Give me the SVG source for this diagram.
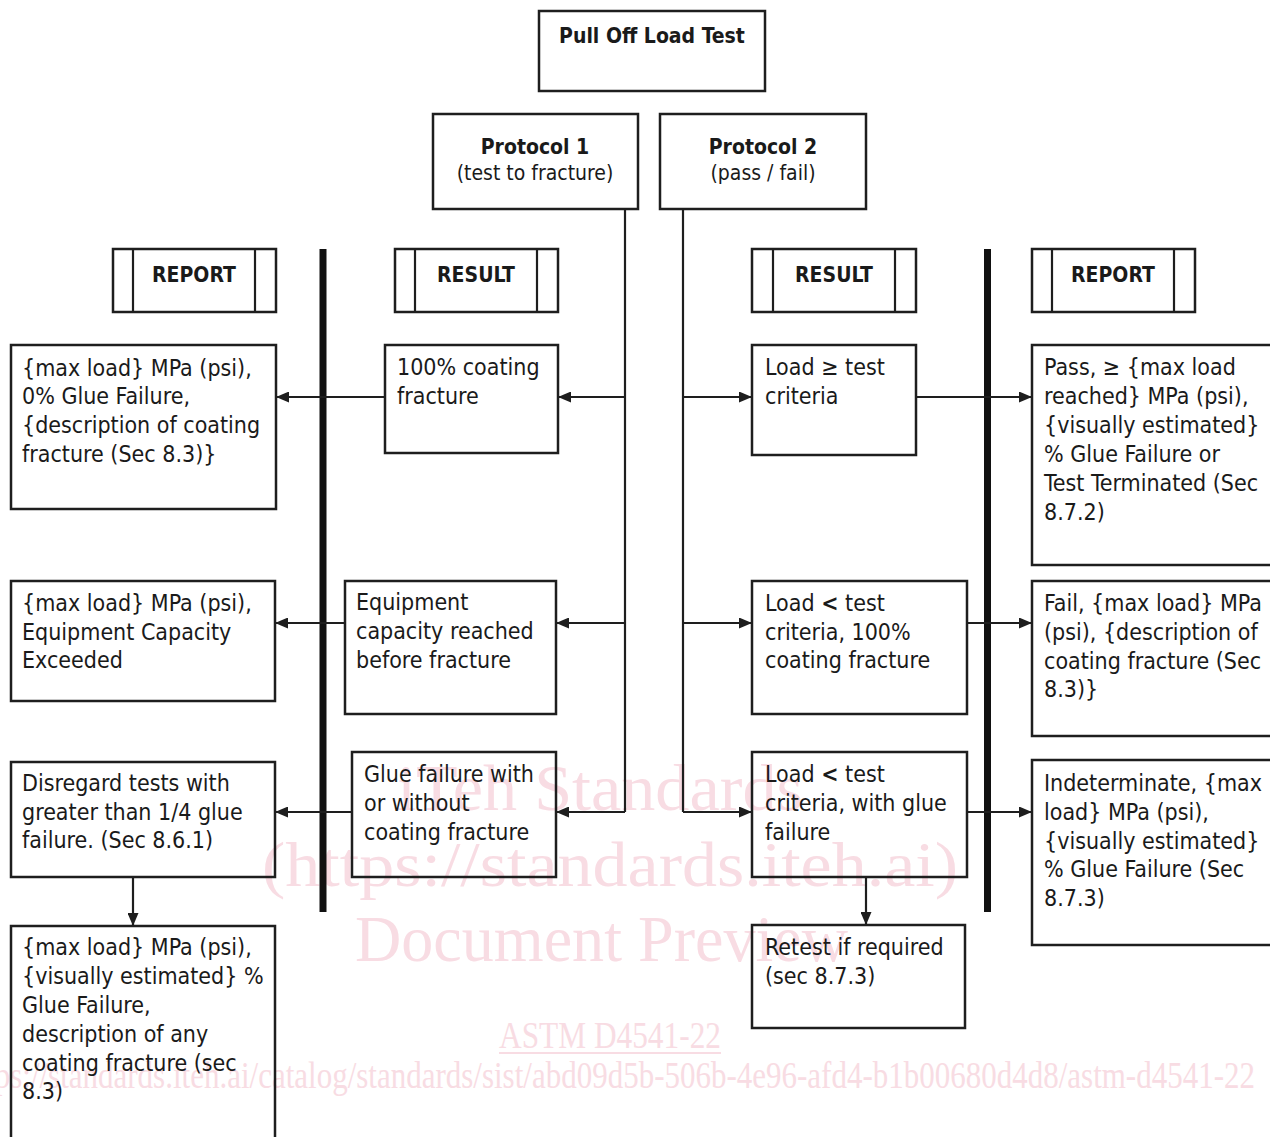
<svg xmlns="http://www.w3.org/2000/svg" width="1270" height="1137" viewBox="0 0 1270 1137">
<defs>
<style>
.box{fill:none;stroke:#1e1e1e;stroke-width:2.5}
.ln{fill:none;stroke:#1e1e1e;stroke-width:2.2}
.bar{fill:none;stroke:#111;stroke-width:7}
.t{font-family:'DejaVu Sans Condensed','DejaVu Sans',sans-serif;font-stretch:condensed;font-size:23px;fill:#1a1a1a}
.h{font-family:'DejaVu Sans Condensed','DejaVu Sans',sans-serif;font-stretch:condensed;font-size:21px;font-weight:bold;fill:#1a1a1a;text-anchor:middle}
.s{font-family:'DejaVu Sans Condensed','DejaVu Sans',sans-serif;font-stretch:condensed;font-size:21px;fill:#1a1a1a;text-anchor:middle}
.wm{font-family:'Liberation Serif','Times New Roman',serif;fill:#f8dce3}
</style>
<marker id="ah" viewBox="0 0 13 11" refX="13" refY="5.5" markerWidth="13" markerHeight="11" markerUnits="userSpaceOnUse" orient="auto"><path d="M0,0 L13,5.5 L0,11 z" fill="#1e1e1e"/></marker>
</defs>
<rect width="1270" height="1137" fill="#fff"/>
<g id="watermark">
<text class="wm" x="397" y="810" font-size="66" textLength="406" lengthAdjust="spacingAndGlyphs">iTeh Standards</text>
<text class="wm" x="262" y="886" font-size="64" textLength="696" lengthAdjust="spacingAndGlyphs">(https://standards.iteh.ai)</text>
<text class="wm" x="355" y="961" font-size="66" textLength="493" lengthAdjust="spacingAndGlyphs">Document Preview</text>
<text class="wm" x="499" y="1048" font-size="38" textLength="222" lengthAdjust="spacingAndGlyphs">ASTM D4541-22</text>
<line x1="499" y1="1053" x2="721" y2="1053" stroke="#f8dce3" stroke-width="2"/>
<text class="wm" x="-38" y="1088" font-size="38" textLength="1293" lengthAdjust="spacingAndGlyphs">https://standards.iteh.ai/catalog/standards/sist/abd09d5b-506b-4e96-afd4-b1b00680d4d8/astm-d4541-22</text>
</g>
<g id="connectors">
<line class="bar" x1="323" y1="249" x2="323" y2="912"/>
<line class="bar" x1="987.5" y1="249" x2="987.5" y2="912"/>
<polyline class="ln" points="625,209 625,812"/>
<polyline class="ln" points="683,209 683,812"/>
<line class="ln" x1="625" y1="397" x2="558" y2="397" marker-end="url(#ah)"/>
<line class="ln" x1="625" y1="623" x2="556" y2="623" marker-end="url(#ah)"/>
<line class="ln" x1="625" y1="812" x2="556" y2="812" marker-end="url(#ah)"/>
<line class="ln" x1="683" y1="397" x2="752" y2="397" marker-end="url(#ah)"/>
<line class="ln" x1="683" y1="623" x2="752" y2="623" marker-end="url(#ah)"/>
<line class="ln" x1="683" y1="812" x2="752" y2="812" marker-end="url(#ah)"/>
<line class="ln" x1="385" y1="397" x2="276" y2="397" marker-end="url(#ah)"/>
<line class="ln" x1="345" y1="623" x2="275" y2="623" marker-end="url(#ah)"/>
<line class="ln" x1="352" y1="812" x2="275" y2="812" marker-end="url(#ah)"/>
<line class="ln" x1="916" y1="397" x2="1032" y2="397" marker-end="url(#ah)"/>
<line class="ln" x1="967" y1="623" x2="1032" y2="623" marker-end="url(#ah)"/>
<line class="ln" x1="967" y1="812" x2="1032" y2="812" marker-end="url(#ah)"/>
<line class="ln" x1="133" y1="877" x2="133" y2="926" marker-end="url(#ah)"/>
<line class="ln" x1="866" y1="877" x2="866" y2="925" marker-end="url(#ah)"/>
</g>
<g id="n-top"><rect class="box" x="539" y="11" width="226" height="80"/><text class="h" x="652" y="43">Pull Off Load Test</text></g>
<g id="n-p1"><rect class="box" x="433" y="114" width="205" height="95"/><text class="h" x="535" y="154">Protocol 1</text><text class="s" x="535" y="180">(test to fracture)</text></g>
<g id="n-p2"><rect class="box" x="660" y="114" width="206" height="95"/><text class="h" x="763" y="154">Protocol 2</text><text class="s" x="763" y="180">(pass / fail)</text></g>
<g id="h-report-l"><rect class="box" x="113" y="249" width="163" height="63"/><line class="ln" x1="133" y1="249" x2="133" y2="312"/><line class="ln" x1="255" y1="249" x2="255" y2="312"/><text class="h" x="194" y="282">REPORT</text></g>
<g id="h-result-l"><rect class="box" x="395" y="249" width="163" height="63"/><line class="ln" x1="415" y1="249" x2="415" y2="312"/><line class="ln" x1="537" y1="249" x2="537" y2="312"/><text class="h" x="476" y="282">RESULT</text></g>
<g id="h-result-r"><rect class="box" x="752" y="249" width="164" height="63"/><line class="ln" x1="773" y1="249" x2="773" y2="312"/><line class="ln" x1="895" y1="249" x2="895" y2="312"/><text class="h" x="834" y="282">RESULT</text></g>
<g id="h-report-r"><rect class="box" x="1032" y="249" width="163" height="63"/><line class="ln" x1="1052" y1="249" x2="1052" y2="312"/><line class="ln" x1="1174" y1="249" x2="1174" y2="312"/><text class="h" x="1113" y="282">REPORT</text></g>
<g id="a1"><rect class="box" x="11" y="345" width="265" height="164"/><text class="t" x="22"><tspan y="376">{max load} MPa (psi),</tspan><tspan x="22" y="404">0% Glue Failure,</tspan><tspan x="22" y="433">{description of coating</tspan><tspan x="22" y="462">fracture (Sec 8.3)}</tspan></text></g>
<g id="a2"><rect class="box" x="11" y="581" width="264" height="120"/><text class="t" x="22"><tspan y="611">{max load} MPa (psi),</tspan><tspan x="22" y="640">Equipment Capacity</tspan><tspan x="22" y="668">Exceeded</tspan></text></g>
<g id="a3"><rect class="box" x="11" y="762" width="264" height="115"/><text class="t" x="22"><tspan y="791">Disregard tests with</tspan><tspan x="22" y="820">greater than 1/4 glue</tspan><tspan x="22" y="848">failure. (Sec 8.6.1)</tspan></text></g>
<g id="a4"><rect class="box" x="11" y="926" width="264" height="220"/><text class="t" x="22"><tspan y="955">{max load} MPa (psi),</tspan><tspan x="22" y="984">{visually estimated} %</tspan><tspan x="22" y="1013">Glue Failure,</tspan><tspan x="22" y="1042">description of any</tspan><tspan x="22" y="1071">coating fracture (sec</tspan><tspan x="22" y="1099">8.3)</tspan></text></g>
<g id="b1"><rect class="box" x="385" y="345" width="173" height="108"/><text class="t" x="397"><tspan y="375">100% coating</tspan><tspan x="397" y="404">fracture</tspan></text></g>
<g id="b2"><rect class="box" x="345" y="581" width="211" height="133"/><text class="t" x="356"><tspan y="610">Equipment</tspan><tspan x="356" y="639">capacity reached</tspan><tspan x="356" y="668">before fracture</tspan></text></g>
<g id="b3"><rect class="box" x="352" y="752" width="204" height="125"/><text class="t" x="364"><tspan y="782">Glue failure with</tspan><tspan x="364" y="811">or without</tspan><tspan x="364" y="840">coating fracture</tspan></text></g>
<g id="c1"><rect class="box" x="752" y="345" width="164" height="110"/><text class="t" x="765"><tspan y="375">Load ≥ test</tspan><tspan x="765" y="404">criteria</tspan></text></g>
<g id="c2"><rect class="box" x="752" y="581" width="215" height="133"/><text class="t" x="765"><tspan y="611">Load <tspan font-weight="bold">&lt;</tspan> test</tspan><tspan x="765" y="640">criteria, 100%</tspan><tspan x="765" y="668">coating fracture</tspan></text></g>
<g id="c3"><rect class="box" x="752" y="752" width="215" height="125"/><text class="t" x="765"><tspan y="782">Load <tspan font-weight="bold">&lt;</tspan> test</tspan><tspan x="765" y="811">criteria, with glue</tspan><tspan x="765" y="840">failure</tspan></text></g>
<g id="c4"><rect class="box" x="752" y="925" width="213" height="103"/><text class="t" x="765"><tspan y="955">Retest if required</tspan><tspan x="765" y="984">(sec 8.7.3)</tspan></text></g>
<g id="d1"><rect class="box" x="1032" y="345" width="250" height="220"/><text class="t" x="1044"><tspan y="375">Pass, ≥ {max load</tspan><tspan x="1044" y="404">reached} MPa (psi),</tspan><tspan x="1044" y="433">{visually estimated}</tspan><tspan x="1044" y="462">% Glue Failure or</tspan><tspan x="1044" y="491">Test Terminated (Sec</tspan><tspan x="1044" y="520">8.7.2)</tspan></text></g>
<g id="d2"><rect class="box" x="1032" y="581" width="250" height="155"/><text class="t" x="1044"><tspan y="611">Fail, {max load} MPa</tspan><tspan x="1044" y="640">(psi), {description of</tspan><tspan x="1044" y="669">coating fracture (Sec</tspan><tspan x="1044" y="697">8.3)}</tspan></text></g>
<g id="d3"><rect class="box" x="1032" y="760" width="250" height="185"/><text class="t" x="1044"><tspan y="791">Indeterminate, {max</tspan><tspan x="1044" y="820">load} MPa (psi),</tspan><tspan x="1044" y="849">{visually estimated}</tspan><tspan x="1044" y="877">% Glue Failure (Sec</tspan><tspan x="1044" y="906">8.7.3)</tspan></text></g>
</svg>
